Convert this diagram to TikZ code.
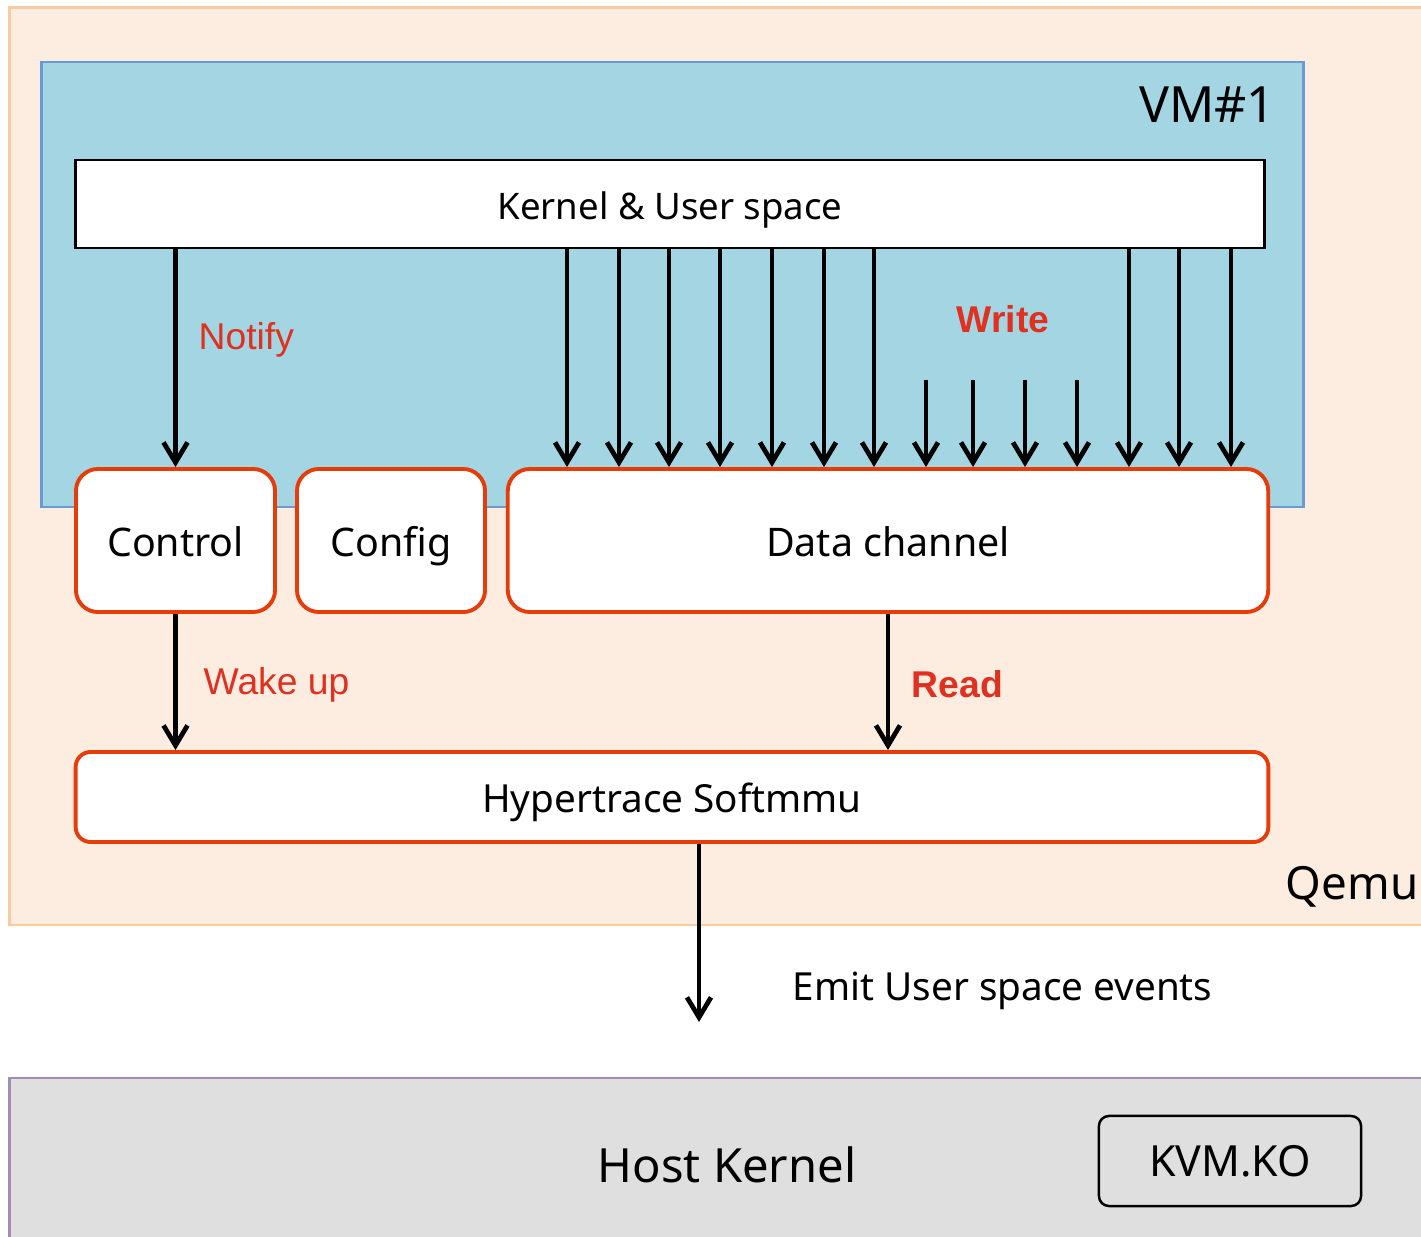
\documentclass[tikz,border=0pt]{standalone}
\usepackage{fontspec}
\setmainfont{Noto Sans}
\newfontfamily\labfont{Liberation Sans}
\usepackage{xcolor}
\usepackage{tikz}
\usetikzlibrary{arrows.meta, positioning}

\definecolor{qemufill}{HTML}{FDEDE0}
\definecolor{qemuline}{HTML}{F8CBA0}
\definecolor{vmfill}{HTML}{A3D5E3}
\definecolor{vmline}{HTML}{6A9AD0}
\definecolor{chanred}{HTML}{E63C0A}
\definecolor{lblred}{HTML}{E03020}
\definecolor{hostfill}{HTML}{DFDFDF}
\definecolor{hostline}{HTML}{A08DB0}

\begin{document}
\begin{tikzpicture}[x=0.01cm, y=-0.01cm,
      area/.style={rectangle, inner sep=0pt, line width=0.7pt},
      blk/.style={rectangle, draw=chanred, fill=white, line width=1.1pt, inner sep=0pt, rounded corners=2.2mm, text height=1em, text depth=0.1em, font=\fontsize{11.2}{13}\selectfont},
      bigtxt/.style={inner sep=0pt, font=\fontsize{14.2}{17}\selectfont},
      lbl/.style={inner sep=0pt, text=lblred, font=\labfont\fontsize{10.6}{12}\selectfont},
      arr/.style={-{Straight Barb[length=2mm, width=2.4mm]}, line width=1.35pt}]
      \useasboundingbox (0,0) rectangle (1421,1237);
      \clip (0,0) rectangle (1421,1237);
      \fill[white] (0,0) rectangle (1421,1237);
      % containers
      \node[area, fill=qemufill, draw=qemuline, minimum width=14.2cm, minimum height=9.17cm] (qemu) at (720,466.5) {};
      \node[area, fill=vmfill, draw=vmline, minimum width=12.61cm, minimum height=4.45cm] (vm) at (672.5,284.5) {};
      \node[area, fill=hostfill, draw=hostline, minimum width=14.2cm, minimum height=1.67cm] (host) at (720,1161.5) {};
      \node[bigtxt, anchor=east] (vmlbl) at (1276,105) {VM\#1};
      \node[bigtxt, anchor=east, font=\fontsize{13}{16}\selectfont] (qemulbl) at (1419,887) {Qemu};
      \node[bigtxt, font=\fontsize{13.4}{16}\selectfont] (hostlbl) at (727,1165) {Host Kernel};
      % boxes
      \node[area, draw=black, fill=white, line width=0.75pt, minimum width=11.88cm, minimum height=0.88cm, text height=1em, text depth=0.1em, font=\fontsize{10.4}{12}\selectfont] (kernel) at (670,204) {Kernel \& User space};
      \node[blk, minimum width=1.99cm, minimum height=1.43cm] (control) at (175.5,540.5) {Control};
      \node[blk, minimum width=1.88cm, minimum height=1.43cm] (config) at (391,540.5) {Config};
      \node[blk, minimum width=7.60cm, minimum height=1.43cm] (data) at (888,540.5) {Data channel};
      \node[blk, rounded corners=1.5mm, minimum width=11.92cm, minimum height=0.90cm, font=\fontsize{11}{13}\selectfont] (softmmu) at (672,797) {Hypertrace Softmmu};
      \node[area, draw=black, fill=hostfill, rounded corners=1mm, minimum width=2.62cm, minimum height=0.90cm, font=\fontsize{12.2}{14}\selectfont] (kvm) at (1230,1161) {KVM.KO};
      % arrows
      \coordinate (wtop) at (0,380);
      \coordinate (emit) at (699,1022);
      \draw[arr] (kernel.south -| control) -- (control.north);
      \foreach \x in {567,619,669,720,772,824,874,1129,1179,1231}
        \draw[arr] (kernel.south -| \x,0) -- (data.north -| \x,0);
      \foreach \x in {926,973,1025,1077}
        \draw[arr] (wtop -| \x,0) -- (data.north -| \x,0);
      \draw[arr] (control.south) -- (softmmu.north -| control);
      \draw[arr] (data.south) -- (softmmu.north -| data);
      \draw[arr] (softmmu.south -| emit) -- (emit);
      % labels
      \node[lbl, anchor=west] (notify) at (198,340) {Notify};
      \node[lbl, font=\labfont\bfseries\fontsize{10.6}{12}\selectfont] (write) at (1003,319) {Write};
      \node[lbl, anchor=west] (wake) at (203,685) {Wake up};
      \node[lbl, anchor=west, font=\labfont\bfseries\fontsize{10.6}{12}\selectfont] (read) at (911,684) {Read};
      \node[anchor=west, inner sep=0pt, font=\fontsize{11}{13}\selectfont] (emitlbl) at (792,991) {Emit User space events};
\end{tikzpicture}
\end{document}
